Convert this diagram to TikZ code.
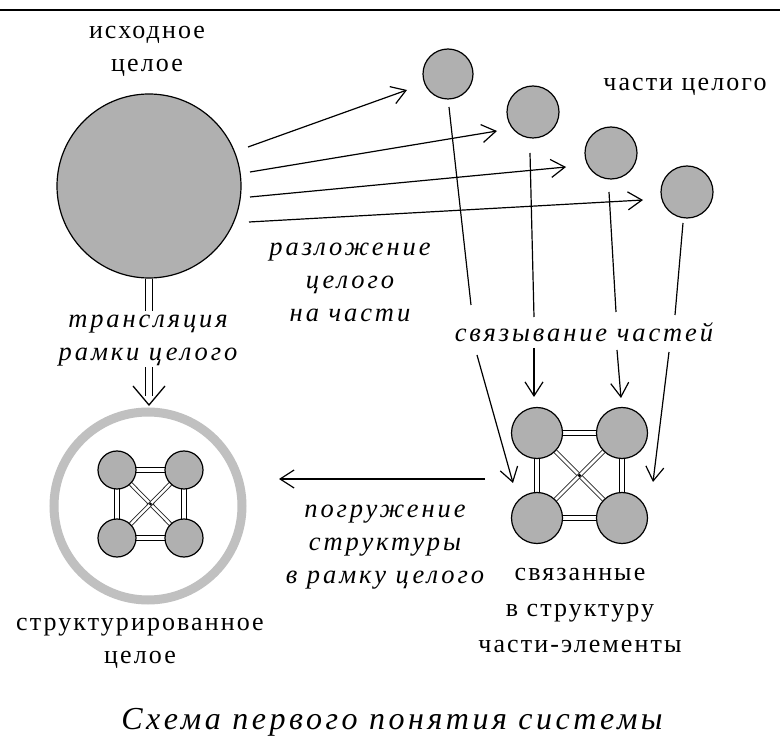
\documentclass[tikz,border=0pt]{standalone}
\usepackage{fontspec}
\newfontfamily\rmsp[LetterSpace=8]{Liberation Serif}
\newfontfamily\itsp[LetterSpace=11,ItalicFont={* Italic}]{Liberation Serif}
\usetikzlibrary{arrows.meta,backgrounds,calc}
\definecolor{partgray}{RGB}{176,176,176}
\definecolor{ringgray}{RGB}{192,192,192}
\begin{document}
\begin{tikzpicture}[x=1pt,y=-1pt,
  part/.style={circle, draw=black, line width=1.2pt, fill=partgray, inner sep=0pt, minimum size=#1},
  part/.default=52pt,
  lbl/.style={font=\rmsp\fontsize{26}{33}\selectfont, align=center, inner sep=0pt},
  ilbl/.style={font=\itsp\itshape\fontsize{26.5}{33}\selectfont, align=center, inner sep=0pt},
  arr/.style={line width=1.2pt, -{Straight Barb[length=14pt,width=18pt]}},
  plain/.style={line width=1.2pt},
  link/.style={draw=black, double=white, line width=1.3pt, double distance=3.5pt},
  dlink/.style={draw=black!85, double=white, line width=0.9pt, double distance=2.5pt},
  shaft/.style={draw=black, double=white, line width=1.4pt, double distance=5.5pt}
]
\useasboundingbox (0,0) rectangle (780,743);
\begin{scope}[on background layer]
\fill[white] (0,0) rectangle (780,743);
\end{scope}
% top rule
\coordinate (tl) at (0,10);
\coordinate (tr) at (780,10);
\draw[line width=2.5pt] (tl) -- (tr);

% whole and parts
\node[part=184pt] (whole) at (149,186) {};
\node[part=50pt] (p1) at (448,74) {};
\node[part=52pt] (p2) at (533,112) {};
\node[part=52pt] (p3) at (611,153) {};
\node[part=52pt] (p4) at (687,192) {};

% labels
\node[lbl] (l1) at (147,51) {исходное\\целое};
\node[lbl] (l2) at (685,87) {части целого};
\node[ilbl] (l3) at (350,282) {разложение\\целого\\на части};
\node[ilbl] (l4) at (148,341) {трансляция\\рамки целого};
\node[ilbl] (l5) at (584,332) {связывание частей};
\node[ilbl] (l6) at (385,547) {погружение\\структуры\\в рамку целого};
\node[lbl, font=\rmsp\fontsize{26}{36}\selectfont] (l7) at (580,611) {связанные\\в структуру\\части-элементы};
\node[lbl] (l8) at (140,643) {структурированное\\целое};
\node[ilbl, font=\itsp\itshape\fontsize{32}{36}\selectfont] (title) at (392,722) {Схема первого понятия системы};

% decomposition arrows
\coordinate (s1) at (248,147); \coordinate (t1) at (407,90);
\coordinate (s2) at (250,172); \coordinate (t2) at (497,131);
\coordinate (s3) at (250,197); \coordinate (t3) at (566,167);
\coordinate (s4) at (249,222); \coordinate (t4) at (643,200);
\draw[arr] (s1) -- (t1);
\draw[arr] (s2) -- (t2);
\draw[arr] (s3) -- (t3);
\draw[arr] (s4) -- (t4);

% binding lines
\coordinate (v1a) at (449,107); \coordinate (v1b) at (471,305);
\coordinate (v1c) at (477,355); \coordinate (v1d) at (513,483);
\coordinate (v2a) at (530,153); \coordinate (v2b) at (534,317);
\coordinate (v2c) at (534,348); \coordinate (v2d) at (534,397);
\coordinate (v3a) at (609,192); \coordinate (v3b) at (616,312);
\coordinate (v3c) at (617,350); \coordinate (v3d) at (621,398);
\coordinate (v4a) at (683,223); \coordinate (v4b) at (675,315);
\coordinate (v4c) at (669,352); \coordinate (v4d) at (653,482);
\draw[plain] (v1a) -- (v1b);
\draw[arr] (v1c) -- (v1d);
\draw[plain] (v2a) -- (v2b);
\draw[arr] (v2c) -- (v2d);
\draw[plain] (v3a) -- (v3b);
\draw[arr] (v3c) -- (v3d);
\draw[plain] (v4a) -- (v4b);
\draw[arr] (v4c) -- (v4d);

% right structure
\node[part=51pt] (a1) at (537,433) {};
\node[part=51pt] (a2) at (622,433) {};
\node[part=51pt] (a3) at (537,518) {};
\node[part=51pt] (a4) at (622,518) {};
\begin{scope}[on background layer]
  \draw[link] (a1.center) -- (a2.center);
  \draw[link] (a3.center) -- (a4.center);
  \draw[link] (a1.center) -- (a3.center);
  \draw[link] (a2.center) -- (a4.center);
  \draw[dlink] (a1.center) -- (a4.center);
  \draw[dlink] (a2.center) -- (a3.center);
\end{scope}
\coordinate (ac) at ($(a1)!0.5!(a4)$);
\fill (ac) circle (1.8);

% ring and left structure
\coordinate (rc) at (148,506);
\draw[ringgray, line width=9pt] (rc) circle (94);
\node[part=38pt] (b1) at (117,470) {};
\node[part=38pt] (b2) at (184,470) {};
\node[part=38pt] (b3) at (117,538) {};
\node[part=38pt] (b4) at (184,538) {};
\begin{scope}[on background layer]
  \draw[link] (b1.center) -- (b2.center);
  \draw[link] (b3.center) -- (b4.center);
  \draw[link] (b1.center) -- (b3.center);
  \draw[link] (b2.center) -- (b4.center);
  \draw[dlink] (b1.center) -- (b4.center);
  \draw[dlink] (b2.center) -- (b3.center);
\end{scope}
\coordinate (bc) at ($(b1)!0.5!(b4)$);
\fill (bc) circle (1.6);

% embedding arrow
\coordinate (e1) at (485,479);
\coordinate (e2) at (279,479);
\draw[arr] (e1) -- (e2);

% frame translation double arrow
\coordinate (d1) at (149,311);
\coordinate (d2) at (149,367);
\coordinate (dtip) at (149,405);
\coordinate (dend) at (149,396);
\draw[shaft] (whole.south) -- (d1);
\draw[shaft] (d2) -- (dend);
\draw[line width=1.3pt] ($(dtip)+(-16,-19)$) -- (dtip) -- ($(dtip)+(16,-19)$);
\end{tikzpicture}
\end{document}
